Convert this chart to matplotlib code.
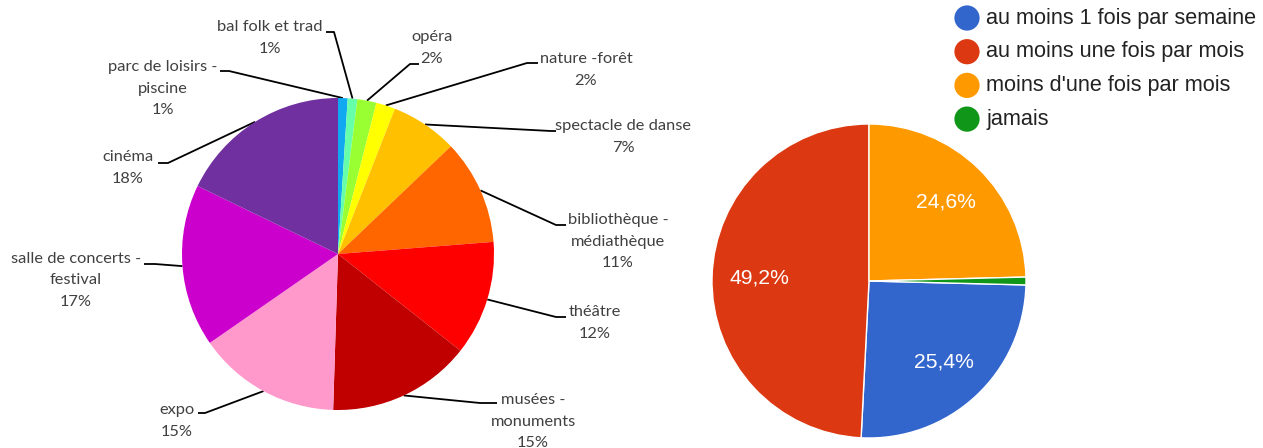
import numpy as np
import matplotlib
matplotlib.use("Agg")
import matplotlib.pyplot as plt

# ---------------- data ----------------
activities = ["parc de loisirs -\npiscine", "bal folk et trad", "opéra", "nature -forêt",
              "spectacle de danse", "bibliothèque -\nmédiathèque", "théâtre",
              "musées -\nmonuments", "expo", "salle de concerts -\nfestival", "cinéma"]
activity_pct = [1, 1, 2, 2, 7, 11, 12, 15, 15, 17, 18]
activity_colors = ["#10A8F0", "#66FFAA", "#99FF33", "#FFFF00", "#FFC000", "#FF6600",
                   "#FF0000", "#C00000", "#FF99CC", "#CC00CC", "#7030A0"]

freq_labels = ["au moins 1 fois par semaine", "au moins une fois par mois",
               "moins d'une fois par mois", "jamais"]
freq_pct = [25.4, 49.2, 24.6, 0.8]
freq_colors = ["#3366CC", "#DC3912", "#FF9900", "#109618"]

# ---------------- layout ----------------
W, H = 1263, 448
fig = plt.figure(figsize=(W / 100, H / 100), dpi=100)
ax = fig.add_axes([0, 0, 1, 1])

def Y(y):
    return H - y

label_font = ["Lato", "DejaVu Sans"]
label_color = "#404040"
g_font = ["Liberation Sans", "DejaVu Sans"]

# left pie
c1 = (338, Y(254))
r1 = 156
wedges, _ = ax.pie(activity_pct, colors=activity_colors, startangle=90, counterclock=False,
                   center=c1, radius=r1, wedgeprops=dict(linewidth=0))

# right pie
c2 = (869, Y(281))
r2 = 157
start2 = 90 + 360 * (freq_pct[0] + freq_pct[1]) / sum(freq_pct)

def fmt(p):
    return "" if p < 2 else f"{p:.1f}%".replace(".", ",")

w2, _, autotexts = ax.pie(freq_pct, colors=freq_colors, startangle=start2, counterclock=False,
                          center=c2, radius=r2, autopct=fmt, pctdistance=0.70,
                          wedgeprops=dict(linewidth=1, edgecolor="white"),
                          textprops=dict(color="white", fontsize=15.2, family=g_font))

ax.set_xlim(0, W)
ax.set_ylim(0, H)
ax.set_aspect("equal")
ax.axis("off")

# label layout: (text center x, first line center y, dash x0, dash x1, dash y)
label_layout = [
    (163, 67, 220, 229, 71),    # parc
    (270, 27, 326, 334, 32),    # bal folk
    (432, 37, 419, 410, 64),    # opera
    (586, 59, 538, 527, 63),    # nature
    (623, 126, 556, 551, 131),  # spectacle
    (618, 220, 566, 556, 225),  # biblio
    (595, 312, 566, 556, 317),  # theatre
    (533, 400, 497, 480, 403),  # musees
    (177, 410, 198, 205, 413),  # expo
    (76, 259, 144, 155, 264),   # salle
    (128, 157, 158, 168, 163),  # cinema
]
line_step = 21.5
for w, name, pct, (tx, ty, dx0, dx1, dy) in zip(wedges, activities, activity_pct, label_layout):
    lines = name.split("\n") + [f"{pct}%"]
    for i, ln in enumerate(lines):
        ax.text(tx, Y(ty + i * line_step), ln, ha="center", va="center",
                fontsize=11.8, family=label_font, color=label_color)
    ang = np.deg2rad((w.theta1 + w.theta2) / 2)
    ex = c1[0] + r1 * np.cos(ang)
    ey = c1[1] + r1 * np.sin(ang)
    ax.plot([dx0, dx1, ex], [Y(dy), Y(dy), ey], color="black", lw=1.3,
            solid_capstyle="butt", zorder=0)

# legend
leg_x, leg_y0, leg_step = 967, 18, 33.7
for i, (lab, col) in enumerate(zip(freq_labels, freq_colors)):
    yy = Y(leg_y0 + i * leg_step)
    ax.scatter([leg_x], [yy], s=330, color=col, edgecolor="none")
    ax.text(leg_x + 19, yy, lab, ha="left", va="center", fontsize=15.6,
            family=g_font, color="#222222")

fig.savefig("out.png", dpi=100)
